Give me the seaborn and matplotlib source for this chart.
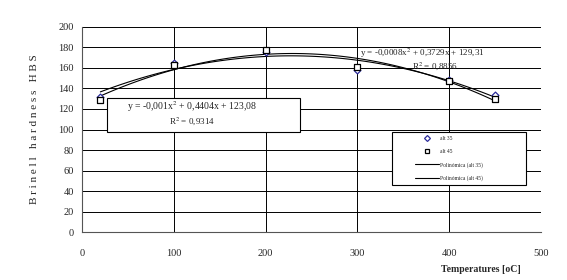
import numpy as np
import pandas as pd
import matplotlib
matplotlib.use("Agg")
import matplotlib.pyplot as plt
import seaborn as sns
from matplotlib.lines import Line2D

# data
temps = [20, 100, 200, 300, 400, 450]
alt35 = [132, 165, 176, 158, 148, 134]
alt45 = [129, 163, 178, 161, 147, 130]

eq35 = "y = -0,0008x$^2$ + 0,3729x + 129,31"
r35 = "R$^2$ = 0,8856"
eq45 = "y = -0,001x$^2$ + 0,4404x + 123,08"
r45 = "R$^2$ = 0,9314"

df = pd.DataFrame({"temp": temps, "alt 35": alt35, "alt 45": alt45})

sns.set_style("white")
plt.rcParams["font.family"] = ["Liberation Serif", "DejaVu Serif"]
plt.rcParams["mathtext.fontset"] = "stix"

fig = plt.figure(figsize=(5.67, 2.8), dpi=100)
ax = fig.add_axes([0.1446, 0.1714, 0.8096, 0.7322])

# trend lines (2nd order polynomial)
sns.regplot(data=df, x="temp", y="alt 35", order=2, ci=None, scatter=False,
            truncate=True, color="black", line_kws={"lw": 0.8}, ax=ax)
sns.regplot(data=df, x="temp", y="alt 45", order=2, ci=None, scatter=False,
            truncate=True, color="black", line_kws={"lw": 0.8}, ax=ax)

sns.scatterplot(data=df, x="temp", y="alt 35", marker="D", s=12,
                facecolor="white", edgecolor="#2a2a9a", linewidth=0.9, ax=ax, zorder=5)
sns.scatterplot(data=df, x="temp", y="alt 45", marker="s", s=14,
                facecolor="white", edgecolor="black", linewidth=0.9, ax=ax, zorder=5)

ax.set_xlim(0, 500)
ax.set_ylim(0, 200)
ax.set_xticks(range(0, 501, 100))
ax.set_yticks(range(0, 201, 20))
ax.grid(True, color="black", lw=0.7)
ax.set_axisbelow(True)
for s in ["top", "right"]:
    ax.spines[s].set_visible(False)
ax.spines["left"].set_color("#555555")
ax.spines["bottom"].set_color("#555555")
ax.tick_params(labelsize=7.5, length=3, direction="out", color="#555555")
ax.tick_params(axis="x", pad=9)
ax.tick_params(axis="y", pad=3)

ax.set_ylabel("B r i n e l l   h a r d n e s s   H B S", fontsize=8, labelpad=14)
ax.set_xlabel("Temperatures [oC]", fontsize=7, fontweight="bold", labelpad=10)
ax.xaxis.set_label_coords(0.87, -0.16)

# equation for alt 45 in a box
ax.add_patch(plt.Rectangle((27, 98), 210, 33, transform=ax.transData,
                           facecolor="white", edgecolor="black", lw=0.8, zorder=3))
ax.text(120, 122, eq45, ha="center", va="center", fontsize=7, zorder=4)
ax.text(120, 108, r45, ha="center", va="center", fontsize=6.5, zorder=4)

# equation for alt 35
ax.text(303, 174.5, eq35, ha="left", va="center", fontsize=6.5, zorder=4)
ax.text(360, 162, r35, ha="left", va="center", fontsize=6.5, zorder=4)

# legend box
ax.add_patch(plt.Rectangle((0.675, 0.229), 0.292, 0.259, transform=ax.transAxes,
                           facecolor="white", edgecolor="black", lw=0.8, zorder=6))
handles = [
    Line2D([], [], marker="D", ls="none", ms=3, mfc="white", mec="#2a2a9a", mew=0.9),
    Line2D([], [], marker="s", ls="none", ms=3, mfc="white", mec="black", mew=0.9),
    Line2D([], [], color="black", lw=0.8),
    Line2D([], [], color="black", lw=0.8),
]
labels = ["alt 35", "alt 45", "Polinómica (alt 35)", "Polinómica (alt 45)"]
leg = ax.legend(handles, labels, loc="center left", bbox_to_anchor=(0.726, 0.358),
                fontsize=4, frameon=False, handlelength=4.3, handletextpad=0.2,
                borderpad=0, labelspacing=1.45, borderaxespad=0)
leg.set_zorder(7)

fig.savefig("out.png", dpi=100)
